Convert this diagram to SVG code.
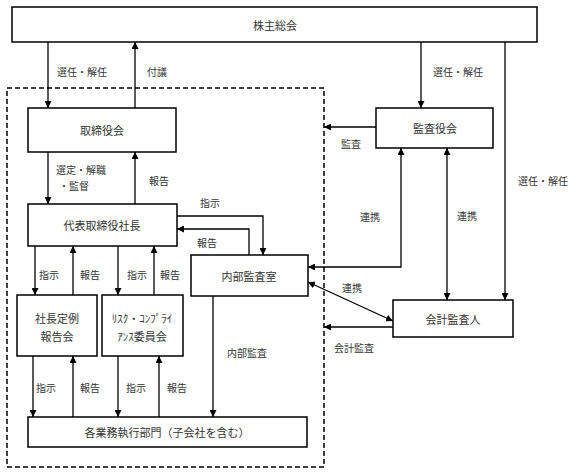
<svg xmlns="http://www.w3.org/2000/svg" width="576" height="474" viewBox="0 0 576 474">
<defs>
<style>
.box{fill:#fff;stroke:#000;stroke-width:1.5}
.n{font-family:"Noto Sans CJK JP",sans-serif;font-size:11px;fill:#333;text-anchor:middle;dominant-baseline:central}
.l{font-family:"Noto Sans CJK JP",sans-serif;font-size:10px;fill:#333;dominant-baseline:central}
.c{fill:none;stroke:#000;stroke-width:1.3}
.dash{fill:none;stroke:#000;stroke-width:1.5;stroke-dasharray:5 3}
</style>
<marker id="a" viewBox="0 0 10 10" refX="10" refY="5" markerWidth="7" markerHeight="7" markerUnits="userSpaceOnUse" orient="auto-start-reverse">
<path d="M0,0 L10,5 L0,10 Z" fill="#000"/>
</marker>
</defs>
<rect class="dash" x="7" y="88" width="317" height="379"/>
<g id="connectors">
<path class="c" d="M48,42 V108" marker-end="url(#a)"/>
<path class="c" d="M135,108 V42" marker-end="url(#a)"/>
<path class="c" d="M421,42 V108" marker-end="url(#a)"/>
<path class="c" d="M505,42 V300" marker-end="url(#a)"/>
<path class="c" d="M376,127 H324" marker-end="url(#a)"/>
<path class="c" d="M48,152 V204" marker-end="url(#a)"/>
<path class="c" d="M135,204 V152" marker-end="url(#a)"/>
<path class="c" d="M177,216 H263 V255" marker-end="url(#a)"/>
<path class="c" d="M249,255 V229 H177" marker-end="url(#a)"/>
<path class="c" d="M401,148 V267 H308" marker-start="url(#a)" marker-end="url(#a)"/>
<path class="c" d="M447,148 V300" marker-start="url(#a)" marker-end="url(#a)"/>
<path class="c" d="M308,282 L393,321" marker-start="url(#a)" marker-end="url(#a)"/>
<path class="c" d="M393,327 H324" marker-end="url(#a)"/>
<path class="c" d="M35,246 V295" marker-end="url(#a)"/>
<path class="c" d="M73,295 V246" marker-end="url(#a)"/>
<path class="c" d="M118,246 V295" marker-end="url(#a)"/>
<path class="c" d="M154,295 V246" marker-end="url(#a)"/>
<path class="c" d="M33,356 V417" marker-end="url(#a)"/>
<path class="c" d="M73,417 V356" marker-end="url(#a)"/>
<path class="c" d="M118,356 V417" marker-end="url(#a)"/>
<path class="c" d="M159,417 V356" marker-end="url(#a)"/>
<path class="c" d="M213,296 V417" marker-end="url(#a)"/>
<text class="l" x="57" y="71">選任・解任</text>
<text class="l" x="147" y="71">付議</text>
<text class="l" x="433" y="71">選任・解任</text>
<text class="l" x="341" y="143">監査</text>
<text class="l" x="56" y="169">選定・解職</text>
<text class="l" x="59" y="185">・監督</text>
<text class="l" x="149" y="180">報告</text>
<text class="l" x="200" y="202">指示</text>
<text class="l" x="197" y="242">報告</text>
<text class="l" x="360" y="216">連携</text>
<text class="l" x="457" y="215">連携</text>
<text class="l" x="518" y="180">選任・解任</text>
<text class="l" x="342" y="287">連携</text>
<text class="l" x="334" y="347">会計監査</text>
<text class="l" x="39" y="274">指示</text>
<text class="l" x="80" y="274">報告</text>
<text class="l" x="127" y="274">指示</text>
<text class="l" x="160" y="274">報告</text>
<text class="l" x="36" y="387">指示</text>
<text class="l" x="80" y="387">報告</text>
<text class="l" x="126" y="387">指示</text>
<text class="l" x="167" y="387">報告</text>
<text class="l" x="227" y="352">内部監査</text>
</g>
<g id="shareholders"><rect class="box" x="12" y="7" width="525" height="35"/><text class="n" x="275" y="25">株主総会</text></g>
<g id="board"><rect class="box" x="28" y="108" width="148" height="44"/><text class="n" x="102" y="130">取締役会</text></g>
<g id="auditboard"><rect class="box" x="376" y="108" width="117" height="40"/><text class="n" x="435" y="128">監査役会</text></g>
<g id="president"><rect class="box" x="28" y="204" width="149" height="42"/><text class="n" x="102" y="225">代表取締役社長</text></g>
<g id="internalaudit"><rect class="box" x="191" y="255" width="117" height="41"/><text class="n" x="249" y="276">内部監査室</text></g>
<g id="accountingauditor"><rect class="box" x="393" y="300" width="120" height="37"/><text class="n" x="453" y="319">会計監査人</text></g>
<g id="presidentmeeting"><rect class="box" x="17" y="295" width="80" height="61"/><text class="n" x="57" y="318">社長定例</text><text class="n" x="57" y="336">報告会</text></g>
<g id="riskcommittee"><rect class="box" x="102" y="295" width="81" height="61"/><text class="n" x="142" y="318">ﾘｽｸ・ｺﾝﾌﾟﾗｲ</text><text class="n" x="142" y="336">ｱﾝｽ委員会</text></g>
<g id="divisions"><rect class="box" x="28" y="417" width="279" height="30"/><text class="n" x="167" y="432">各業務執行部門（子会社を含む）</text></g>
</svg>
